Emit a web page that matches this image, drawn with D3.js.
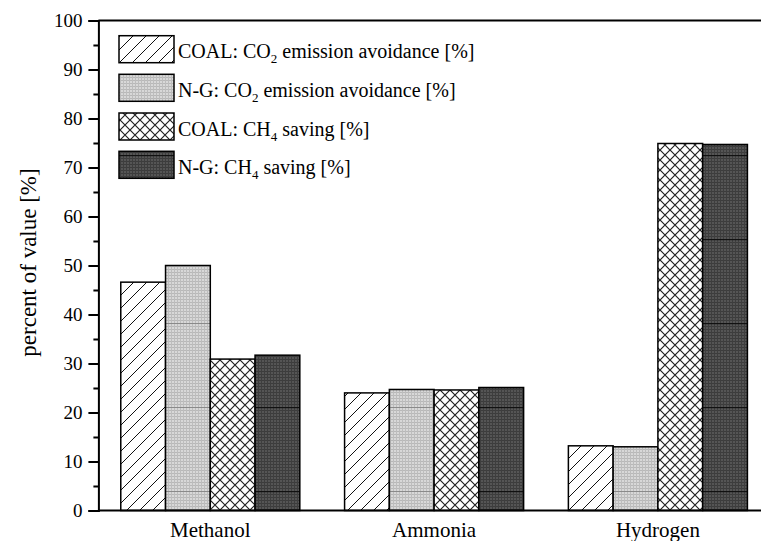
<!DOCTYPE html>
<html>
<head>
<meta charset="utf-8">
<script src="https://cdn.jsdelivr.net/npm/d3@7"></script>
<style>
  html, body { margin: 0; padding: 0; background: #fff; }
  svg, svg text, svg tspan { font-family: "Liberation Serif", "Times New Roman", serif !important; }
</style>
</head>
<body>
<svg id="chart" width="761" height="541"></svg>
<script>
// ---- data ----
const categories = ["Methanol", "Ammonia", "Hydrogen"];
const seriesKeys = ["coalCO2", "ngCO2", "coalCH4", "ngCH4"];
const coalCO2 = [46.6, 24.0, 13.2];
const ngCO2   = [50.0, 24.7, 13.0];
const coalCH4 = [30.9, 24.6, 74.9];
const ngCH4   = [31.7, 25.1, 74.7];
// legend labels: [before subscript, subscript, after subscript]
const seriesLabels = [
  ["COAL: CO", "2", " emission avoidance [%]"],
  ["N-G: CO", "2", " emission avoidance [%]"],
  ["COAL: CH", "4", " saving [%]"],
  ["N-G: CH", "4", " saving [%]"]
];
const yTicks = [0, 10, 20, 30, 40, 50, 60, 70, 80, 90, 100];
const yMinorTicks = [5, 15, 25, 35, 45, 55, 65, 75, 85, 95];
const yLabel = "percent of value [%]";

const seriesValues = { coalCO2, ngCO2, coalCH4, ngCH4 };

(function () {
const FONT = "'Liberation Serif', 'Times New Roman', serif";
// ---- layout ----
const svg = d3.select("#chart");
const mLeft = 98.4, mRight = 769.8, mTop = 20.5, mBottom = 510.5;

const x = d3.scaleBand().domain(categories).range([mLeft, mRight]).paddingInner(0.2).paddingOuter(0.1);
const xs = d3.scaleBand().domain(seriesKeys).range([0, x.bandwidth()]).padding(0);
const y = d3.scaleLinear().domain([0, 100]).range([mBottom, mTop]);

// ---- patterns ----
const defs = svg.append("defs");
const p1 = defs.append("pattern").attr("id", "pHatch").attr("patternUnits", "userSpaceOnUse")
  .attr("width", 13).attr("height", 13);
p1.append("rect").attr("width", 13).attr("height", 13).attr("fill", "#fff");
p1.append("path").attr("d", "M-1,14 L14,-1 M-4,4 L4,-4 M9,17 L17,9").attr("stroke", "#111").attr("stroke-width", 1);

const p2 = defs.append("pattern").attr("id", "pLight").attr("patternUnits", "userSpaceOnUse")
  .attr("x", 0).attr("y", 71).attr("width", 3).attr("height", 84);
p2.append("rect").attr("width", 3).attr("height", 84).attr("fill", "#d8d8d8");
for (let i = 0; i < 28; i++) {
  p2.append("rect").attr("x", 0).attr("y", i * 3).attr("width", 3).attr("height", 1).attr("fill", "#b8b8b8");
}
p2.append("rect").attr("x", 0).attr("y", 0).attr("width", 1).attr("height", 84).attr("fill", "#bdbdbd");
p2.append("rect").attr("x", 0).attr("y", 0).attr("width", 3).attr("height", 1).attr("fill", "#8a8a8a");

const p3 = defs.append("pattern").attr("id", "pCross").attr("patternUnits", "userSpaceOnUse")
  .attr("width", 10).attr("height", 10);
p3.append("rect").attr("width", 10).attr("height", 10).attr("fill", "#fff");
p3.append("path").attr("d", "M0,0 L10,10 M10,0 L0,10").attr("stroke", "#222").attr("stroke-width", 1.2);

const p4 = defs.append("pattern").attr("id", "pDark").attr("patternUnits", "userSpaceOnUse")
  .attr("x", 0).attr("y", 71).attr("width", 3).attr("height", 84);
p4.append("rect").attr("width", 3).attr("height", 84).attr("fill", "#555");
for (let i = 0; i < 28; i++) {
  p4.append("rect").attr("x", 0).attr("y", i * 3).attr("width", 3).attr("height", 1).attr("fill", "#3c3c3c");
}
p4.append("rect").attr("x", 0).attr("y", 0).attr("width", 1).attr("height", 84).attr("fill", "#3e3e3e");
p4.append("rect").attr("x", 0).attr("y", 0).attr("width", 3).attr("height", 1.2).attr("fill", "#111");

const fills = { coalCO2: "url(#pHatch)", ngCO2: "url(#pLight)", coalCH4: "url(#pCross)", ngCH4: "url(#pDark)" };

// ---- bars ----
const barG = svg.append("g");
categories.forEach((cat, ci) => {
  seriesKeys.forEach(key => {
    const v = seriesValues[key][ci];
    barG.append("rect")
      .attr("x", x(cat) + xs(key))
      .attr("y", y(v))
      .attr("width", xs.bandwidth())
      .attr("height", y(0) - y(v))
      .attr("fill", fills[key])
      .attr("stroke", "#000")
      .attr("stroke-width", 1.5);
  });
});

// ---- frame ----
svg.append("line").attr("x1", mLeft).attr("x2", 800).attr("y1", mTop).attr("y2", mTop)
  .attr("stroke", "#000").attr("stroke-width", 2);
svg.append("line").attr("x1", mLeft).attr("x2", 800).attr("y1", mBottom).attr("y2", mBottom)
  .attr("stroke", "#000").attr("stroke-width", 2);

// ---- y axis ----
const yAxis = svg.append("g").attr("transform", `translate(${mLeft},0)`)
  .call(d3.axisLeft(y).tickValues(yTicks).tickSize(10).tickPadding(6).tickFormat(d3.format("d")));
yAxis.attr("font-family", null).attr("font-size", null);
yAxis.select(".domain").attr("stroke-width", 2);
yAxis.selectAll(".tick line").attr("stroke-width", 2);
yAxis.selectAll(".tick text").attr("font-size", 19).style("font-family", FONT).attr("fill", "#000");

const yMinor = svg.append("g").attr("transform", `translate(${mLeft},0)`)
  .call(d3.axisLeft(y).tickValues(yMinorTicks).tickSize(5).tickFormat(""));
yMinor.select(".domain").remove();
yMinor.selectAll(".tick line").attr("stroke-width", 2);

// ---- x labels ----
svg.append("g").selectAll("text").data(categories).join("text")
  .attr("x", d => x(d) + x.bandwidth() / 2)
  .attr("y", 537)
  .attr("text-anchor", "middle")
  .attr("font-size", 21)
  .style("font-family", FONT)
  .attr("fill", "#000")
  .text(d => d);

// ---- y label ----
svg.append("text")
  .attr("transform", `translate(36,${(mTop + mBottom) / 2 - 3}) rotate(-90)`)
  .attr("text-anchor", "middle")
  .attr("font-size", 23)
  .style("font-family", FONT)
  .attr("fill", "#000")
  .text(yLabel);

// ---- legend ----
const legend = svg.append("g");
const legendY = [35.7, 74.3, 113, 151.3];
seriesKeys.forEach((key, i) => {
  legend.append("rect")
    .attr("x", 119).attr("y", legendY[i]).attr("width", 55).attr("height", 27)
    .attr("fill", fills[key]).attr("stroke", "#000").attr("stroke-width", 1.5);
  const t = legend.append("text").attr("x", 178).attr("y", legendY[i] + 22.5)
    .attr("font-size", 20).style("font-family", FONT).attr("fill", "#000");
  t.append("tspan").style("font-family", FONT).text(seriesLabels[i][0]);
  t.append("tspan").style("font-family", FONT).attr("font-size", 13).attr("dy", 5).text(seriesLabels[i][1]);
  t.append("tspan").style("font-family", FONT).attr("dy", -5).text(seriesLabels[i][2]);
});
})();
</script>
</body>
</html>
